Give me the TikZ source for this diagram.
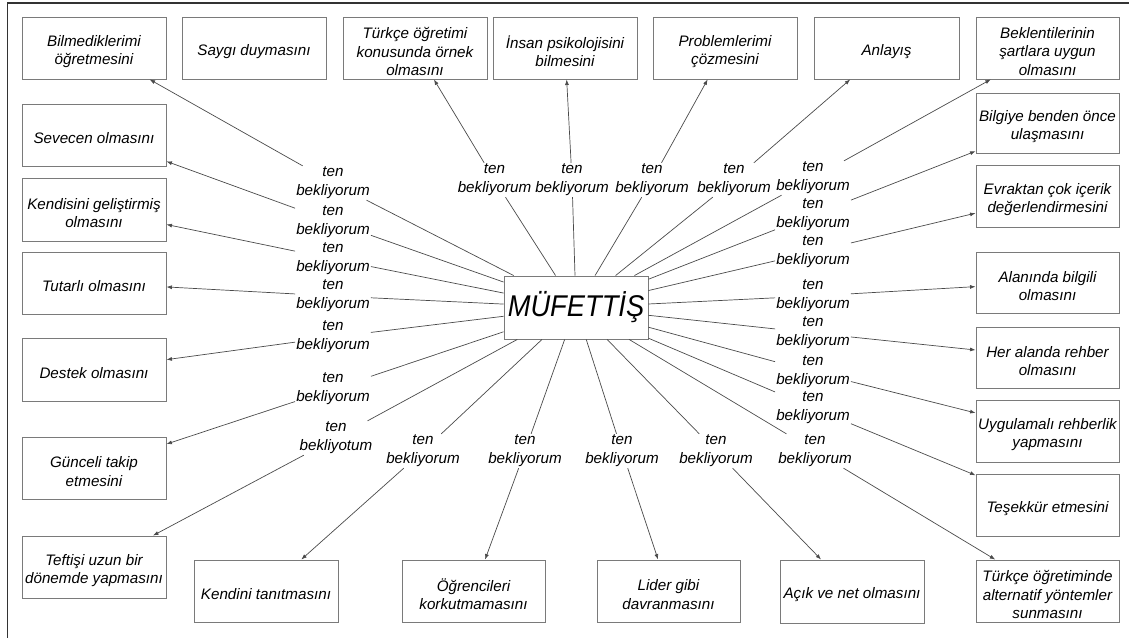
\documentclass[tikz,border=0pt]{standalone}
\usepackage{fontspec}
\usepackage{graphicx}
\setmainfont{Liberation Sans}
\usetikzlibrary{arrows.meta}
\definecolor{boxgray}{HTML}{7A7A7A}
\definecolor{linegray}{HTML}{4A4A4A}
\definecolor{framegray}{HTML}{333333}
% \tbox{name}{x1}{y1}{x2}{y2}{text}: framed box given by its corners
\newcommand\tbox[6]{%
  \node[box, minimum width={(#4-#2)*1pt}, minimum height={(#5-#3)*1pt},
        label={[txt, name=#1t, yshift=-3.5pt]center:{#6}}]
        (#1) at ({(#2+#4)/2},{(#3+#5)/2}) {};}
\begin{document}
\begin{tikzpicture}[x=1pt,y=-1pt,
  txt/.style={font=\itshape\fontsize{15.2}{18.3}\selectfont, align=center, inner sep=0pt},
  box/.style={draw=boxgray, line width=0.9pt, inner sep=0pt},
  lbl/.style={font=\itshape\fontsize{15.2}{19}\selectfont, align=center, inner sep=1pt},
  conn/.style={draw=linegray, line width=0.7pt},
  arr/.style={conn, -{Latex[length=5.5pt,width=4pt]}},
]
\useasboundingbox (0,0) rectangle (1129,637);
\clip (0,0) rectangle (1129,637);

% outer frame (top and left edges)
\draw[framegray, line width=1.3pt] (7.5,645) -- (7.5,3) -- (1140,3);

% top row
\tbox{b1}{22}{17}{166}{79}{Bilmediklerimi\\öğretmesini}
\tbox{b2}{182}{17}{326}{79}{Saygı duymasını}
\tbox{b3}{343}{17}{487}{79}{Türkçe öğretimi\\konusunda örnek\\olmasını}
\tbox{b4}{493}{17}{637}{79}{İnsan psikolojisini\\bilmesini}
\tbox{b5}{653}{17}{797}{79}{Problemlerimi\\çözmesini}
\tbox{b6}{814}{17}{959}{79}{Anlayış}
\tbox{b7}{976}{17}{1119}{79}{Beklentilerinin\\şartlara uygun\\olmasını}
% right column
\tbox{b8}{976}{93}{1119}{153}{Bilgiye benden önce\\ulaşmasını}
\tbox{b9}{976}{165}{1119}{227}{Evraktan çok içerik\\değerlendirmesini}
\tbox{b10}{976}{252}{1119}{313}{Alanında bilgili\\olmasını}
\tbox{b11}{976}{327}{1119}{388}{Her alanda rehber\\olmasını}
\tbox{b12}{976}{400}{1119}{462}{Uygulamalı rehberlik\\yapmasını}
\tbox{b13}{976}{474}{1119}{536}{Teşekkür etmesini}
\tbox{b14}{976}{560}{1119}{622}{Türkçe öğretiminde\\alternatif yöntemler\\sunmasını}
% bottom row
\tbox{b15}{780}{560}{924}{623}{Açık ve net olmasını}
\tbox{b16}{597}{560}{740}{622}{Lider gibi\\davranmasını}
\tbox{b17}{402}{560}{545}{622}{Öğrencileri\\korkutmamasını}
\tbox{b18}{194}{560}{338}{622}{Kendini tanıtmasını}
% left column
\tbox{b19}{22}{536}{166}{598}{Teftişi uzun bir\\dönemde yapmasını}
\tbox{b20}{22}{437}{166}{499}{Günceli takip\\etmesini}
\tbox{b21}{22}{338}{166}{401}{Destek olmasını}
\tbox{b22}{22}{252}{166}{314}{Tutarlı olmasını}
\tbox{b23}{22}{178}{166}{241}{Kendisini geliştirmiş\\olmasını}
\tbox{b24}{22}{104}{166}{166}{Sevecen olmasını}

% centre
\node[box, minimum width=144pt, minimum height=63pt,
      font=\itshape\fontsize{30}{30}\selectfont] (m) at (576,307.5)
      {\scalebox{0.91}[1]{MÜFETTİŞ}};

% "ten bekliyorum" labels
\node[lbl] (l1) at (333,183) {ten\\bekliyorum};
\node[lbl] (l2) at (333,222) {ten\\bekliyorum};
\node[lbl] (l3) at (333,259) {ten\\bekliyorum};
\node[lbl] (l4) at (333,296) {ten\\bekliyorum};
\node[lbl] (l5) at (333,337) {ten\\bekliyorum};
\node[lbl] (l6) at (333,389) {ten\\bekliyorum};
\node[lbl] (l7) at (336,438) {ten\\bekliyotum};
\node[lbl] (t1) at (494.5,180) {ten\\bekliyorum};
\node[lbl] (t2) at (572,180) {ten\\bekliyorum};
\node[lbl] (t3) at (652,180) {ten\\bekliyorum};
\node[lbl] (t4) at (734,180) {ten\\bekliyorum};
\node[lbl] (r1) at (813,178) {ten\\bekliyorum};
\node[lbl] (r2) at (813,215) {ten\\bekliyorum};
\node[lbl] (r3) at (813,252) {ten\\bekliyorum};
\node[lbl] (r4) at (813,296) {ten\\bekliyorum};
\node[lbl] (r5) at (813,333) {ten\\bekliyorum};
\node[lbl] (r6) at (813,372) {ten\\bekliyorum};
\node[lbl] (r7) at (813,408) {ten\\bekliyorum};
\node[lbl] (r8) at (815,451) {ten\\bekliyorum};
\node[lbl] (d1) at (423,451) {ten\\bekliyorum};
\node[lbl] (d2) at (525,451) {ten\\bekliyorum};
\node[lbl] (d3) at (622,451) {ten\\bekliyorum};
\node[lbl] (d4) at (716,451) {ten\\bekliyorum};

% connectors: centre -> label -> box
\foreach \l/\b in {l1/b1, l2/b24, l3/b23, l4/b22, l5/b21, l6/b20, l7/b19,
                   t1/b3, t2/b4, t3/b5, t4/b6,
                   r1/b7, r2/b8, r3/b9, r4/b10, r5/b11, r6/b12, r7/b13, r8/b14,
                   d1/b18, d2/b17, d3/b16, d4/b15} {
  \draw[conn] (m) -- (\l);
  \draw[arr] (\l) -- (\b);
}
\end{tikzpicture}
\end{document}
